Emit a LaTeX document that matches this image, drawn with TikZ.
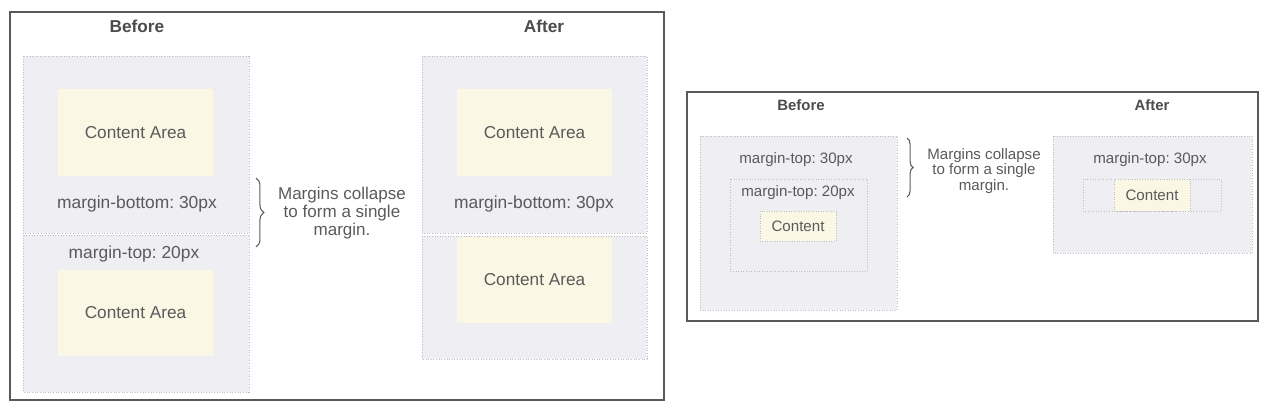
\documentclass[tikz,border=0pt]{standalone}
\usepackage{fontspec}
\setmainfont{Liberation Sans}
\usetikzlibrary{decorations.pathreplacing}
\definecolor{margin-grey}{HTML}{EEEEF3}
\definecolor{dot-grey}{HTML}{BDBDC4}
\definecolor{content-yellow}{HTML}{FAF7E4}
\definecolor{label-grey}{HTML}{5A5A5A}
\frenchspacing
\tikzset{
    panel-frame/.style = {draw=black!65, line width=0.8pt},
    margin-box/.style = {fill=margin-grey, draw=dot-grey, densely dotted, line width=0.5pt},
    inner-box/.style = {draw=dot-grey, densely dotted, line width=0.5pt},
    content-box/.style = {fill=content-yellow, text=label-grey, font=\fontsize{9.8pt}{10.2pt}\selectfont, inner sep=0pt},
    content-small/.style = {fill=content-yellow, draw=dot-grey, densely dotted, text=label-grey, font=\fontsize{8.6pt}{9pt}\selectfont, inner sep=0pt},
    big-label/.style = {text=label-grey, font=\fontsize{9.9pt}{10.2pt}\selectfont, align=center, inner sep=0pt},
    small-label/.style = {text=label-grey, font=\fontsize{8.6pt}{9pt}\selectfont, align=center, inner sep=0pt},
    big-title/.style = {text=black!70, font=\fontsize{9.8pt}{10pt}\selectfont\bfseries, inner sep=0pt},
    small-title/.style = {text=black!70, font=\fontsize{8.5pt}{9pt}\selectfont\bfseries, inner sep=0pt},
    brace-line/.style = {draw=label-grey, line width=0.6pt, decorate, decoration={brace, amplitude=#1}},
}

\begin{document}
\begin{tikzpicture}[x=0.02cm, y=-0.02cm]
\useasboundingbox (0,0) rectangle (1272,406);

% first picture: two block boxes
\draw[panel-frame] (10,12) rectangle (664,400);
\node[big-title] (before) at (137,26) {Before};
\node[big-title] (after) at (544,26) {After};

\draw[margin-box] (23,56) rectangle (249,233);
\draw[margin-box] (23,235) rectangle (249,392);
\node[content-box, minimum width=3.1cm, minimum height=1.74cm] (area-1) at (135.5,132.5) {Content Area};
\node[big-label] (bottom-1) at (137,204) {margin-bottom: 30px};
\node[big-label] (top-1) at (134,254) {margin-top: 20px};
\node[content-box, minimum width=3.1cm, minimum height=1.72cm] (area-2) at (135.5,313) {Content Area};

\coordinate (brace-top) at (256,178);
\coordinate (brace-bottom) at (256,247);
\draw[brace-line=4.5pt] (brace-top) -- (brace-bottom);
\node[big-label, font=\fontsize{9.7pt}{10.2pt}\selectfont] (note-1) at (342,213) {Margins collapse\\to form a single\\margin.};

\draw[margin-box] (422,56) rectangle (647,233);
\draw[margin-box] (422,236) rectangle (647,359);
\node[content-box, minimum width=3.1cm, minimum height=1.74cm] (area-3) at (534.5,132.5) {Content Area};
\node[big-label] (bottom-2) at (534,204) {margin-bottom: 30px};
\node[content-box, minimum width=3.1cm, minimum height=1.72cm] (area-4) at (534.5,280) {Content Area};

% second picture: nested boxes
\draw[panel-frame] (687,92) rectangle (1258,321);
\node[small-title] (before-small) at (801,105) {Before};
\node[small-title] (after-small) at (1152,105) {After};

\draw[margin-box] (700,136) rectangle (897,310);
\node[small-label] (outer-top-1) at (796,160) {margin-top: 30px};
\draw[inner-box] (730,179) rectangle (867,271);
\node[small-label] (inner-top) at (798,193) {margin-top: 20px};
\node[content-small, minimum width=1.52cm, minimum height=0.6cm] (content-1) at (798,226) {Content};

\coordinate (small-brace-top) at (907,138);
\coordinate (small-brace-bottom) at (907,197);
\draw[brace-line=3.5pt] (small-brace-top) -- (small-brace-bottom);
\node[small-label] (note-2) at (984,171) {Margins collapse\\to form a single\\margin.};

\draw[margin-box] (1053,136) rectangle (1252,253);
\node[small-label] (outer-top-2) at (1150,160) {margin-top: 30px};
\draw[inner-box] (1083,179) rectangle (1221,211);
\node[content-small, minimum width=1.52cm, minimum height=0.64cm] (content-2) at (1152,195) {Content};
\end{tikzpicture}
\end{document}
